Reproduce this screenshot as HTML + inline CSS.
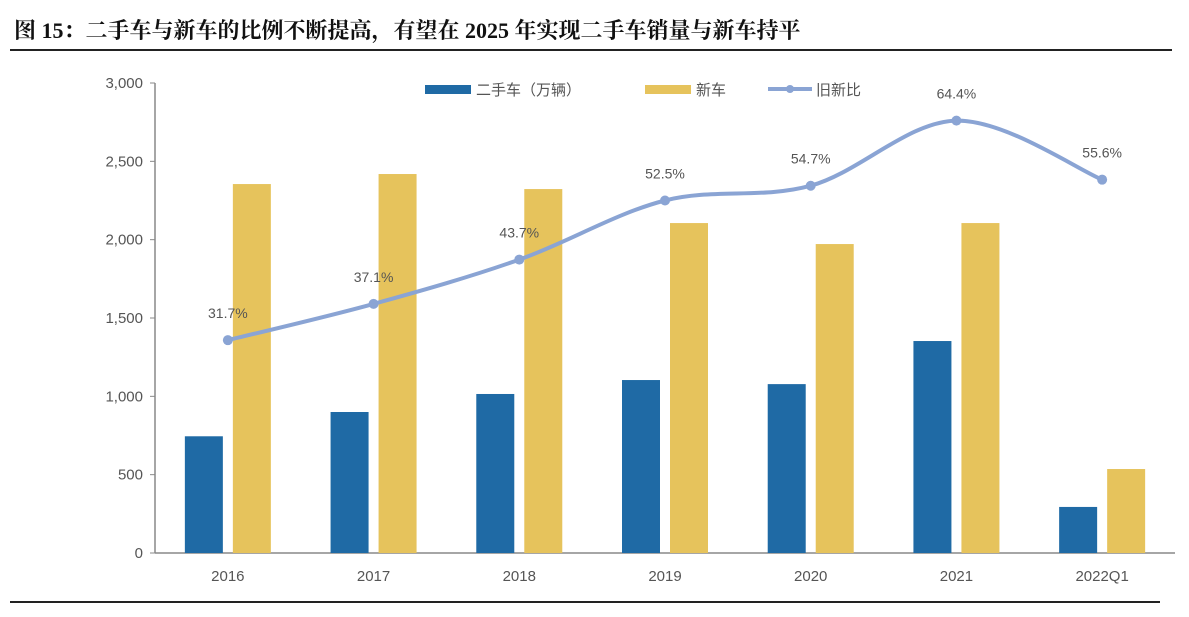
<!DOCTYPE html>
<html><head><meta charset="utf-8"><style>
body{margin:0;background:#fff;width:1189px;height:617px;overflow:hidden}
svg{display:block}
</style></head><body>
<svg id="c" width="1189" height="617" font-family="'Liberation Sans','Noto Sans CJK SC',sans-serif">
<text x="14" y="38" font-size="22" font-weight="bold" font-family="'Liberation Serif','Noto Serif CJK SC',serif" fill="#111">图 15：二手车与新车的比例不断提高，有望在 2025 年实现二手车销量与新车持平</text>
<line x1="10" y1="50" x2="1172" y2="50" stroke="#222" stroke-width="2"/>
<line x1="10" y1="602" x2="1160" y2="602" stroke="#222" stroke-width="2"/>
<g font-size="15" fill="#555">
<rect x="425" y="85" width="46" height="9" fill="#1f6aa5"/>
<text x="476" y="95">二手车（万辆）</text>
<rect x="645" y="85" width="46" height="9" fill="#e6c35c"/>
<text x="696" y="95">新车</text>
<line x1="768" y1="89" x2="812" y2="89" stroke="#8aa4d4" stroke-width="4"/>
<circle cx="790" cy="89" r="4" fill="#8aa4d4"/>
<text x="816" y="95">旧新比</text>
</g>
<g id="axes"></g>
<g id="bars"></g>
<g id="line"></g>
</svg>
<script>
const categories=['2016','2017','2018','2019','2020','2021','2022Q1'];
const usedCars=[745,900,1015,1104,1078,1353,294];
const newCars=[2355,2419,2323,2106,1972,2106,536];
const ratio=[31.7,37.1,43.7,52.5,54.7,64.4,55.6];
const yTicks=[0,500,1000,1500,2000,2500,3000];
const yTickLabels=['0','500','1,000','1,500','2,000','2,500','3,000'];
const NS='http://www.w3.org/2000/svg';
const x0=155,x1=1175,yBot=553,yTop=83;
const y=v=>yBot-(v/3000)*(yBot-yTop);
const y2=p=>yBot-(p/70)*(yBot-yTop);
const step=(x1-x0)/categories.length;
const xc=i=>x0+step*(i+0.5);
function mk(t,a,p){const e=document.createElementNS(NS,t);for(const k in a)e.setAttribute(k,a[k]);(p||document.getElementById('c')).appendChild(e);return e;}
const ax=document.getElementById('axes');
let e=mk('line',{x1:x0,y1:yTop,x2:x0,y2:yBot,stroke:'#888','stroke-width':1.5},ax);


e=mk('line',{x1:x0,y1:yBot,x2:x1,y2:yBot,stroke:'#888','stroke-width':1.5},ax);


yTicks.forEach((v,i)=>{
 mk('line',{x1:x0-5,y1:y(v),x2:x0,y2:y(v),stroke:'#888'},ax);
 const t=mk('text',{x:x0-12,y:y(v)+5,'text-anchor':'end','font-size':15,fill:'#555'},ax);
 t.textContent=yTickLabels[i];
 
 
});
const bg=document.getElementById('bars');
categories.forEach((c,i)=>{
 const cx=xc(i);
 let r=mk('rect',{x:cx-43,y:y(usedCars[i]),width:38,height:yBot-y(usedCars[i]),fill:'#1f6aa5'},bg);
 
 
 r=mk('rect',{x:cx+5,y:y(newCars[i]),width:38,height:yBot-y(newCars[i]),fill:'#e6c35c'},bg);
 
 
 const t=mk('text',{x:cx,y:581,'text-anchor':'middle','font-size':15,fill:'#555'},ax);
 t.textContent=c;
 
 
});
const lg=document.getElementById('line');
const pts=ratio.map((p,i)=>[xc(i),y2(p)]);
let d='M'+pts[0][0]+','+pts[0][1];
for(let i=0;i<pts.length-1;i++){
 const p0=pts[Math.max(i-1,0)],p1=pts[i],p2=pts[i+1],p3=pts[Math.min(i+2,pts.length-1)];
 const k=1/6;
 d+=` C${p1[0]+(p2[0]-p0[0])*k},${p1[1]+(p2[1]-p0[1])*k} ${p2[0]-(p3[0]-p1[0])*k},${p2[1]-(p3[1]-p1[1])*k} ${p2[0]},${p2[1]}`;
}
const pa=mk('path',{d:d,fill:'none',stroke:'#8aa4d4','stroke-width':4},lg);


pts.forEach((p,i)=>{
 const ci=mk('circle',{cx:p[0],cy:p[1],r:5,fill:'#8aa4d4'},lg);
 
 
 const t=mk('text',{x:p[0],y:p[1]-22,'text-anchor':'middle','font-size':14,fill:'#555'},lg);
 t.textContent=ratio[i].toFixed(1)+'%';
 
 
});
</script>
</body></html>
